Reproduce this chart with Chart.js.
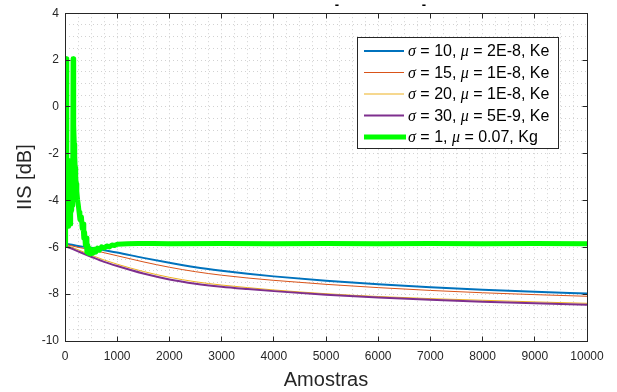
<!DOCTYPE html>
<html><head><meta charset="utf-8">
<script src="https://cdn.jsdelivr.net/npm/chart.js@4.4.1/dist/chart.umd.min.js"></script>
<style>html,body{margin:0;padding:0;background:#fff;}#wrap{width:617px;height:392px;}</style>
</head><body><div id="wrap"><canvas id="c" width="617" height="392"></canvas></div>
<script>
// ---- data ----
const sampleX = [0,100,250,500,750,1000,1500,2000,2500,3000,3500,4000,5000,6000,7000,8000,9000,10000];
const blueY   = [-5.85,-5.88,-5.94,-6.02,-6.12,-6.22,-6.45,-6.66,-6.85,-7.00,-7.13,-7.24,-7.43,-7.58,-7.70,-7.81,-7.90,-7.97];
const orangeY = [-5.88,-5.92,-6.00,-6.10,-6.23,-6.36,-6.62,-6.85,-7.04,-7.19,-7.31,-7.41,-7.58,-7.72,-7.84,-7.94,-8.02,-8.09];
const yellowY = [-5.90,-5.97,-6.10,-6.33,-6.54,-6.72,-7.03,-7.28,-7.47,-7.61,-7.72,-7.82,-7.98,-8.10,-8.19,-8.26,-8.33,-8.39];
const purpleY = [-5.95,-6.03,-6.17,-6.40,-6.62,-6.80,-7.12,-7.37,-7.55,-7.68,-7.78,-7.87,-8.02,-8.14,-8.24,-8.32,-8.39,-8.45];
const greenX  = [0,8,15,22,30,38,48,58,68,78,88,98,108,118,128,138,148,155,160,166,172,178,186,195,205,215,226,240,255,270,285,300,315,330,345,360,375,390,405,420,435,450,470,490,510,535,560,590,620,660,700,750,800,850,900,950,1000,1100,1200,1400,1700,2000,3000,4000,5000,6000,7000,8000,9000,10000];
const greenY  = [-5.9,-1.0,2.05,2.05,-2.3,-4.9,-2.4,-5.1,-2.6,-4.7,-2.3,-5.0,-2.5,-4.4,-2.4,-4.2,-2.4,2.05,1.9,0.5,-0.8,-1.6,-2.1,-2.6,-3.0,-3.3,-3.6,-3.95,-4.2,-4.5,-4.8,-4.85,-4.7,-5.2,-5.0,-5.6,-5.35,-5.9,-5.6,-6.2,-5.9,-6.25,-6.05,-6.28,-6.1,-6.25,-6.08,-6.2,-6.03,-6.12,-5.98,-6.03,-5.94,-5.98,-5.9,-5.92,-5.87,-5.86,-5.85,-5.84,-5.84,-5.85,-5.84,-5.85,-5.84,-5.85,-5.84,-5.85,-5.84,-5.85];
const xMajorTicks = [0,1000,2000,3000,4000,5000,6000,7000,8000,9000,10000];
const yMajorTicks = [-10,-8,-6,-4,-2,0,2,4];
const legendSigma = ['10','15','20','30','1'];
const legendMu    = ['2E-8','1E-8','1E-8','5E-9','0.07'];
const legendK     = ['Ke','Ke','Ke','Ke','Kg'];
const xTitle = 'Amostras';
const yTitle = 'IIS [dB]';

// ---- styles ----
const colors = ['#0072BD','#D95319','#EDB120','#7E2F8E','#00FF00'];
const widths = [2,1,1,2,5];
const ink = '#262626';

const pts = (xs, ys) => xs.map((v,i)=>({x:v,y:ys[i]}));
const series = [blueY, orangeY, yellowY, purpleY];
const datasets = series.map((ys,i)=>({
  data: pts(sampleX, ys), borderColor: colors[i], borderWidth: widths[i],
  pointRadius: 0, cubicInterpolationMode: 'monotone', order: 4 - i, fill: false
}));
datasets.push({data: pts(greenX, greenY), borderColor: colors[4], borderWidth: widths[4],
  pointRadius: 0, tension: 0, order: 0, fill: false, clip: 0, borderJoinStyle: 'round'});

const al = p => Math.round(p + 0.5) - 0.5;

const framePlugin = {
  id: 'frame',
  afterDatasetsDraw(chart) {
    const {ctx, scales:{x, y}} = chart;
    const L = al(x.getPixelForValue(0)), R = al(x.getPixelForValue(10000));
    const T = al(y.getPixelForValue(4)), B = al(y.getPixelForValue(-10));
    ctx.save();
    ctx.strokeStyle = ink; ctx.lineWidth = 1;
    ctx.strokeRect(L, T, R - L, B - T);
    ctx.beginPath();
    xMajorTicks.forEach(v => { const p = al(x.getPixelForValue(v));
      ctx.moveTo(p, B); ctx.lineTo(p, B - 5); ctx.moveTo(p, T); ctx.lineTo(p, T + 5); });
    yMajorTicks.forEach(v => { const p = al(y.getPixelForValue(v));
      ctx.moveTo(L, p); ctx.lineTo(L + 5, p); ctx.moveTo(R, p); ctx.lineTo(R - 5, p); });
    ctx.stroke();
    ctx.restore();
  },
  afterDraw(chart) {
    const ctx = chart.ctx;
    ctx.save();
    ctx.fillStyle = '#000'; ctx.font = 'bold 13px "Liberation Sans"';
    ctx.textAlign = 'center'; ctx.textBaseline = 'middle';
    ctx.fillText('-', 337, 5); ctx.fillText('-', 424, 5);
    const bx = 357.5, by = 37.5, bw = 201, bh = 111;
    ctx.fillStyle = '#fff'; ctx.fillRect(bx, by, bw, bh);
    ctx.strokeStyle = ink; ctx.lineWidth = 1; ctx.strokeRect(bx, by, bw, bh);
    const rowY = [51, 72.5, 94, 115.5, 137];
    const normal = '16px "Liberation Sans"', ital = 'italic 16px "Liberation Serif"';
    for (let i = 0; i < 5; i++) {
      const yy = rowY[i];
      ctx.strokeStyle = colors[i]; ctx.lineWidth = widths[i];
      ctx.beginPath(); ctx.moveTo(364, yy); ctx.lineTo(i === 4 ? 406 : 404, yy); ctx.stroke();
      const parts = [['\u03C3', ital], [' = ' + legendSigma[i] + ', ', normal], ['\u03BC', ital],
                     [' = ' + legendMu[i] + ', ' + legendK[i], normal]];
      let tx = 408;
      ctx.fillStyle = '#000'; ctx.textAlign = 'left'; ctx.textBaseline = 'middle';
      parts.forEach(([t, f]) => { ctx.font = f; ctx.fillText(t, tx, yy + 1); tx += ctx.measureText(t).width; });
    }
    ctx.restore();
  }
};

new Chart(document.getElementById('c'), {
  type: 'line',
  data: { datasets },
  options: {
    responsive: false, animation: false, devicePixelRatio: 1,
    layout: { padding: { top: 11, right: 30, left: 0, bottom: 0 } },
    plugins: { legend: { display: false }, tooltip: { enabled: false } },
    scales: {
      x: {
        type: 'linear', min: 0, max: 10000,
        afterFit: s => { s.height = 51; },
        grid: { color: '#d2d2d2', lineWidth: 1, drawTicks: false },
        border: { display: false, dash: [1, 3] },
        ticks: { stepSize: 250, autoSkip: false, maxRotation: 0, padding: 8, color: ink,
          font: { family: '"Liberation Sans"', size: 12 },
          callback: v => xMajorTicks.includes(v) ? String(v) : '' },
        title: { display: true, text: xTitle, color: ink, padding: { top: 0, bottom: 0 },
          font: { family: '"Liberation Sans"', size: 20 } }
      },
      y: {
        type: 'linear', min: -10, max: 4,
        afterFit: s => { s.width = 65; },
        grid: { color: '#d2d2d2', lineWidth: 1, drawTicks: false },
        border: { display: false, dash: [1, 3] },
        ticks: { stepSize: 0.5, autoSkip: false, padding: 6, color: ink,
          font: { family: '"Liberation Sans"', size: 12 },
          callback: v => yMajorTicks.includes(v) ? String(v) : '' },
        title: { display: true, text: yTitle, color: ink, padding: { top: 13, bottom: 0 },
          font: { family: '"Liberation Sans"', size: 20 } }
      }
    }
  },
  plugins: [framePlugin]
});
</script></body></html>
